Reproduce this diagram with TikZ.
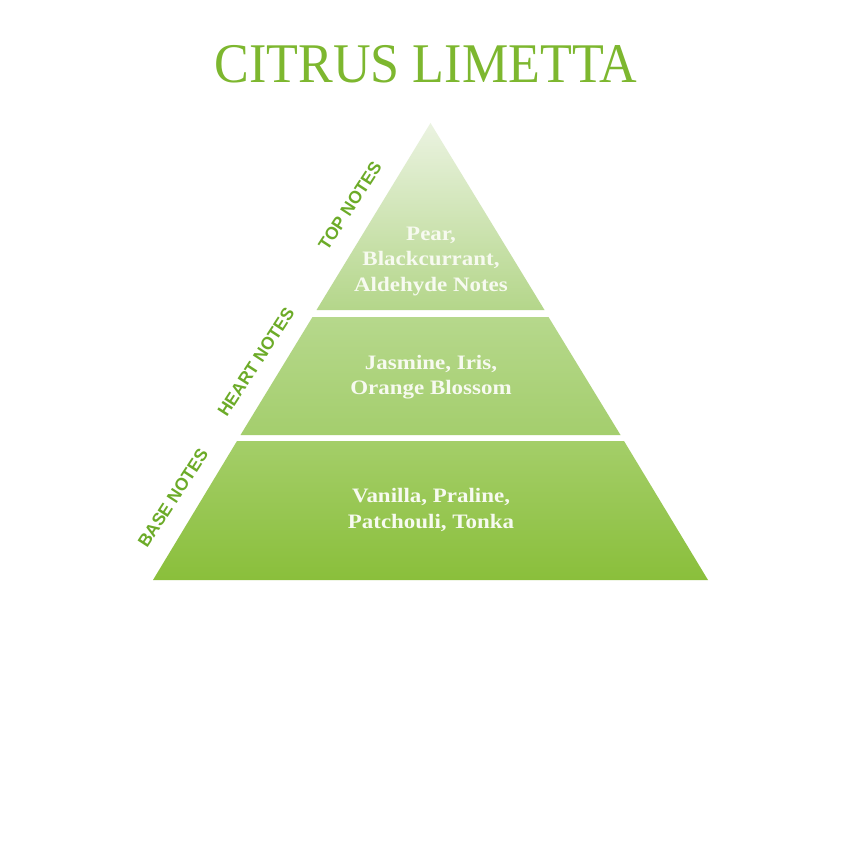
\documentclass[tikz,border=0pt]{standalone}
\usepackage{fontspec}
\setmainfont{Liberation Serif}
\newfontfamily\titlefont[FakeStretch=0.93]{Liberation Serif}
\newfontfamily\notesfont[FakeStretch=1.12]{Liberation Serif}
\newfontfamily\labelfont{Liberation Sans}
\usetikzlibrary{positioning,calc}
\definecolor{limeA}{HTML}{7DB72F}
\definecolor{limeB}{HTML}{6CAB28}
\definecolor{tierTopA}{HTML}{EBF3E1}
\definecolor{tierTopB}{HTML}{B4D68A}
\definecolor{tierMidA}{HTML}{B6D88C}
\definecolor{tierMidB}{HTML}{A4CE6D}
\definecolor{tierLowA}{HTML}{A4CE69}
\definecolor{tierLowB}{HTML}{8ABF3B}
\definecolor{notetext}{HTML}{F7FAF0}

\begin{document}
\begin{tikzpicture}[x=1pt,y=-1pt,
 notes/.style={text=notetext,align=center,font=\fontsize{20.5}{25.5}\selectfont\notesfont\bfseries},
 tierlabel/.style={text=limeB,rotate=57,font=\fontsize{17.5}{17.5}\selectfont\labelfont\bfseries}]
\useasboundingbox (0,0) rectangle (850,850);
\fill[white] (0,0) rectangle (850,850);
% title
\node[text=limeA,font=\fontsize{56}{56}\selectfont\titlefont] (title) at (426,64) {CITRUS LIMETTA};
% pyramid tiers
\shade[top color=tierTopA,bottom color=tierTopB] (430.5,123) -- (544.5,310) -- (316.5,310) -- cycle;
\shade[top color=tierMidA,bottom color=tierMidB] (312.5,317) -- (548.5,317) -- (620.5,435) -- (240.5,435) -- cycle;
\shade[top color=tierLowA,bottom color=tierLowB] (237,441) -- (624,441) -- (708,580) -- (153,580) -- cycle;
% tier contents
\node[notes] (top) at (431,261) {Pear,\\Blackcurrant,\\Aldehyde Notes};
\node[notes] (heart) at (431,377) {Jasmine, Iris,\\Orange Blossom};
\node[notes] (base) at (431,510) {Vanilla, Praline,\\Patchouli, Tonka};
% side labels
\node[tierlabel] (toplbl) at (350,206) {TOP NOTES};
\node[tierlabel] (heartlbl) at (256,362) {HEART NOTES};
\node[tierlabel] (baselbl) at (173,498) {BASE NOTES};
\end{tikzpicture}
\end{document}
